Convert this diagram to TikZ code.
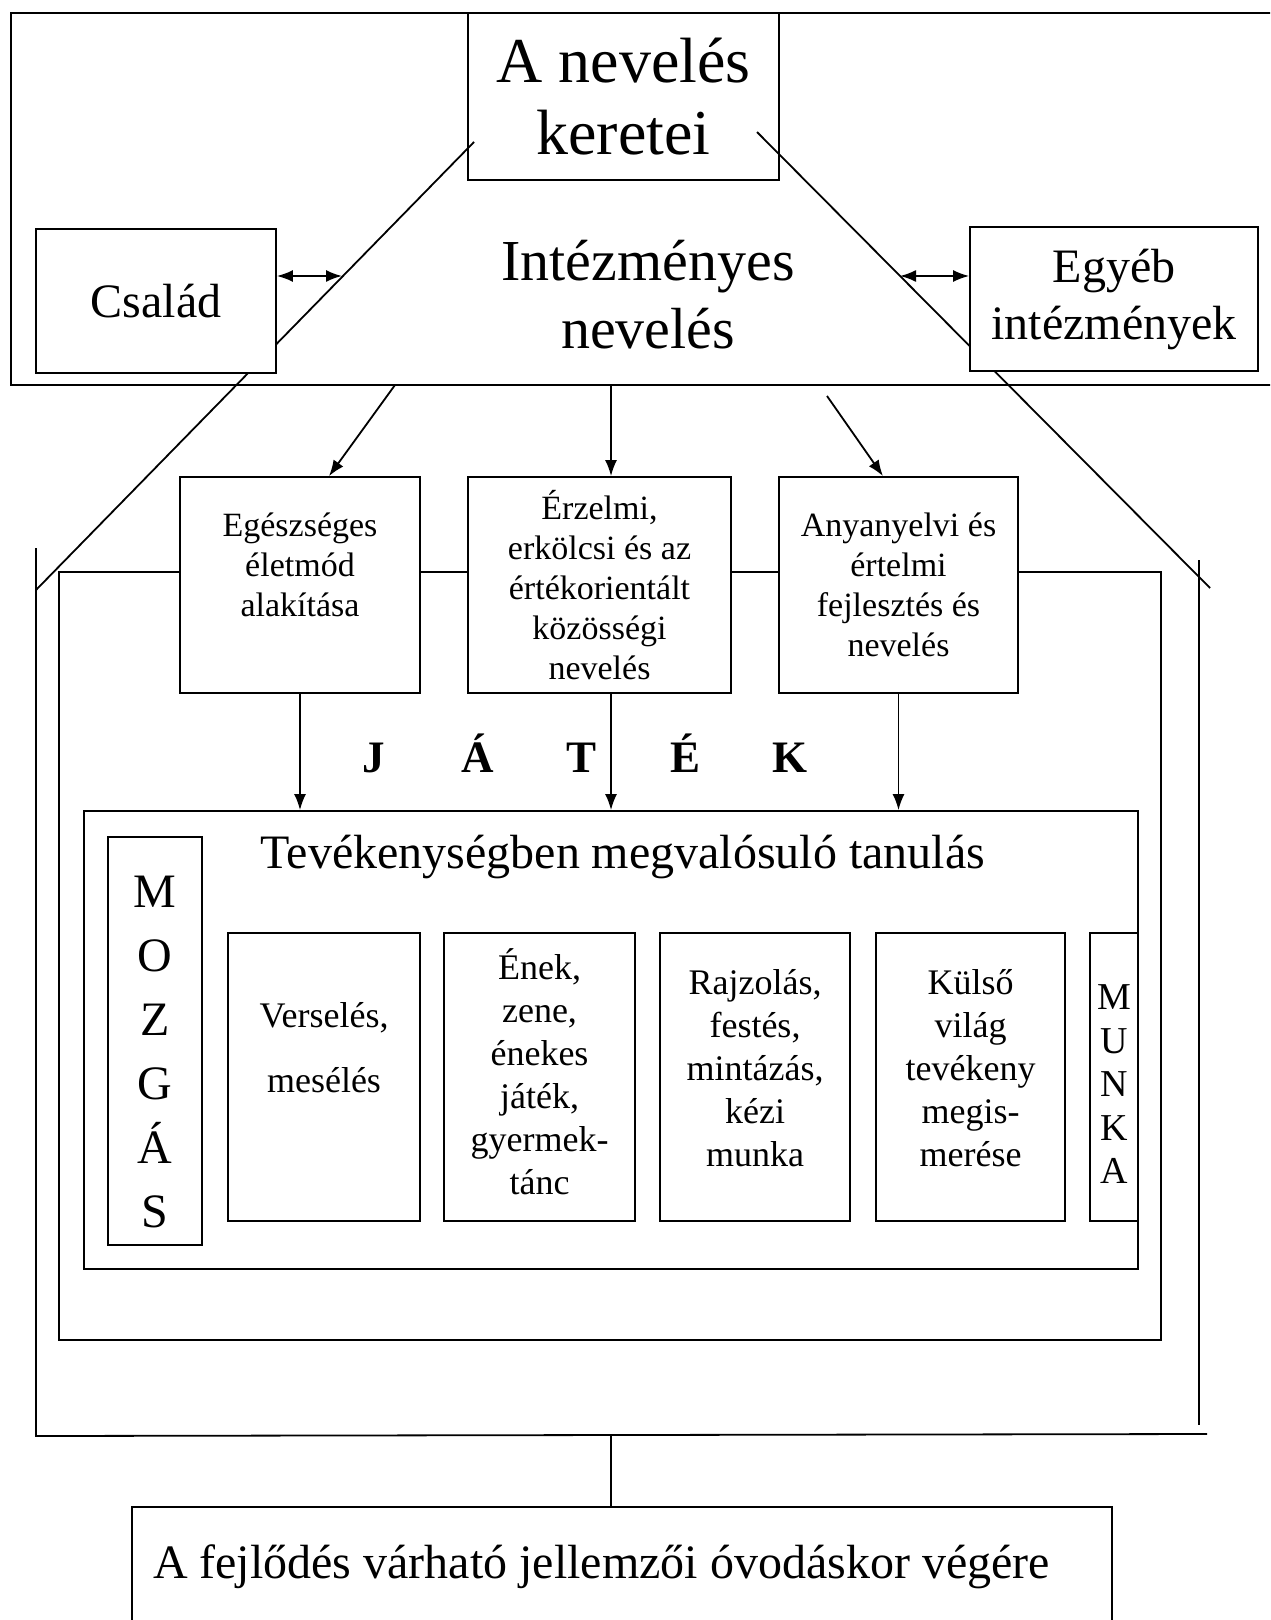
\documentclass[tikz,border=0pt]{standalone}
\usepackage{fontspec}
\setmainfont{Liberation Serif}
\usepackage{tikz}
\usetikzlibrary{positioning, arrows.meta, calc}

\begin{document}
\begin{tikzpicture}[x=0.5pt, y=-0.5pt, line width=0.9pt, >={Latex[length=8pt,width=6pt]}]
\tikzstyle{box}=[draw, rectangle, fill=white, align=center, inner sep=0pt]
\tikzstyle{topbox}=[box, minimum height=108pt, font=\fontsize{17}{20}\selectfont]
\tikzstyle{actbox}=[box, minimum height=144pt, font=\fontsize{18}{21.5}\selectfont]

\useasboundingbox (0,0) rectangle (1270,1620);
\clip (0,0) rectangle (1270,1620);

\node[draw, inner sep=0pt, minimum width=639.5pt, minimum height=186pt](keret) at (650.5,199){};
\node[box, minimum width=155.5pt, minimum height=83.5pt, font=\fontsize{32}{36}\selectfont](cim) at (623.5,96.4){A nevelés\\keretei};

\coordinate (roofL) at (474,142);
\coordinate (eaveL) at (36,590);
\coordinate (roofR) at (757,132);
\coordinate (eaveR) at (1210,588);
\coordinate (hitL) at (342,276);
\coordinate (hitR) at (900,276);
\coordinate (fromL) at (395,385);
\coordinate (fromM) at (611,385);
\coordinate (fromR) at (827,396);
\coordinate (haz) at (611,1436);

\path[draw](roofL) -- (eaveL);
\path[draw](roofR) -- (eaveR);

\node[box, minimum width=120pt, minimum height=72pt, font=\fontsize{24}{28.5}\selectfont](csalad) at (156,301){Család};
\node[box, minimum width=144pt, minimum height=72pt, font=\fontsize{24}{28.5}\selectfont](egyeb) at (1114,299){Egyéb\\intézmények};
\node[align=center, font=\fontsize{29}{34}\selectfont](intnev) at (648,295){Intézményes\\nevelés};

\path[draw,<->]($(csalad.east)+(0,-25)$) -- (hitL);
\path[draw,<->](hitR) -- ($(egyeb.west)+(0,-23)$);

\path[draw](59,572) rectangle (1161,1340);
\path[draw](36,548) -- (36,1436) -- (1207,1434);
\path[draw](1199,560) -- (1199,1425);

\node[topbox, minimum width=120pt](egesz) 	at	(300,585){Egészséges\\életmód\\alakítása\\ \mbox{}};
\node[topbox, minimum width=131.5pt](erz) 	at	(599.5,585){Érzelmi,\\erkölcsi és az\\értékorientált\\közösségi\\nevelés};
\node[topbox, minimum width=119.5pt](anyn) 	at	(898.5,585){Anyanyelvi és\\értelmi\\fejlesztés és\\nevelés};

\node[box, minimum width=527pt, minimum height=229pt](tanul) at (611,1040){};
\node[anchor=base, font=\fontsize{24}{28}\selectfont](tanultxt) at (623,868){Tevékenységben megvalósuló tanulás};

\path[draw,->](fromL) -- ($(egesz.north)+(29,0)$);
\path[draw,->](fromM) -- (fromM |- erz.north);
\path[draw,->](fromR) -- ($(anyn.north)+(-15.5,0)$);

\path[draw,->](egesz.south) -- (egesz.south |- tanul.north);
\path[draw,->](erz.south -| tanul.north) -- (tanul.north);
\path[draw,->](anyn.south) -- (anyn.south |- tanul.north);

\node[anchor=base, inner sep=0pt, font=\fontsize{22.5}{27}\selectfont\bfseries](jatek) at (582,772){\makebox[52pt]{J}\makebox[52pt]{Á}\makebox[52pt]{T}\makebox[52pt]{É}\makebox[52pt]{K}};

\node[box, minimum width=47pt, minimum height=204pt, font=\fontsize{24}{32}\selectfont](mozgas) at (155,1041){\rule{0pt}{27pt}M\\O\\Z\\G\\Á\\S};

\node[actbox, minimum width=96pt](vers) 	at	(324,1077){Verselés,\\[11pt]mesélés\\[8.5pt]\mbox{}};
\node[actbox, minimum width=95.5pt](enek) 	at	(539.5,1077){Ének,\\zene,\\énekes\\játék,\\gyermek-\\tánc\\[-16.5pt]\mbox{}};
\node[actbox, minimum width=95pt](rajz) 	at	(755,1077){Rajzolás,\\festés,\\mintázás,\\kézi\\munka\\[-12pt]\mbox{}};
\node[actbox, minimum width=94.5pt](kulso) 	at	(970.5,1077){Külső\\világ\\tevékeny\\megis-\\merése\\[-12pt]\mbox{}};
\node[box, minimum width=24pt, minimum height=144pt, font=\fontsize{19}{21.75}\selectfont](munka) at (1114,1077){\rule{0pt}{19.6pt}M\\U\\N\\K\\A};

\node[draw, fill=white, minimum width=490pt, minimum height=60pt, inner sep=10.5pt, font=\fontsize{24}{28}\selectfont](fejl) at (622,1567){\makebox[469pt][l]{A fejlődés várható jellemzői óvodáskor végére}};
\path[draw](haz) -- (haz |- fejl.north);

\end{tikzpicture}
\end{document}
